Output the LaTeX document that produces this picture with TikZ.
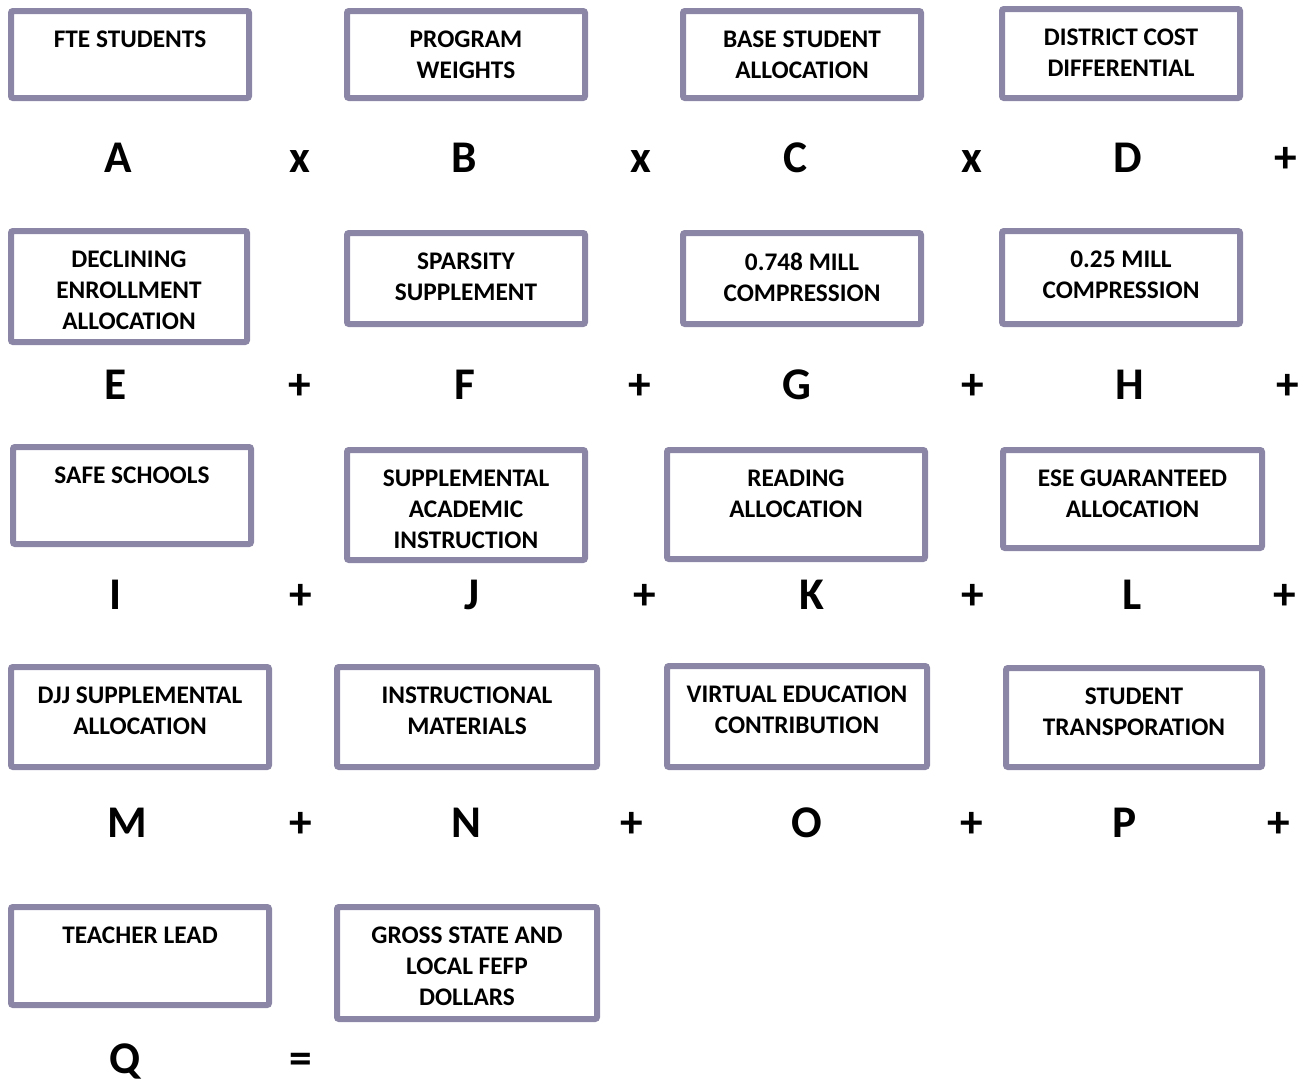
\documentclass[tikz,border=0pt]{standalone}
\usepackage{fontspec}
\setmainfont{Carlito}
\usetikzlibrary{positioning}
\definecolor{BoxLine}{HTML}{8C86A6}

\begin{document}
\begin{tikzpicture}[x=0.75pt,y=-0.75pt,
  costbox/.style={draw=BoxLine,line width=4.5pt,rounded corners=1.5pt,inner sep=0pt},
  boxtext/.style={font=\fontsize{19}{23.25}\selectfont\bfseries,align=center,inner sep=0pt},
  term/.style={font=\fontsize{34}{40}\selectfont\bfseries,anchor=base,inner sep=0pt}]
  \useasboundingbox (0,0) rectangle (1307,1085);
  % boxes: name / left / top / right / bottom / text
  \foreach \n/\xa/\ya/\xb/\yb/\t in {
    fte/8/8/252/101/{FTE STUDENTS},
    weights/344/8/588/101/{PROGRAM\\WEIGHTS},
    bsa/680/8/924/101/{BASE STUDENT\\ALLOCATION},
    dcd/999/6/1243/101/{DISTRICT COST\\DIFFERENTIAL},
    decl/8/228/250/345/{DECLINING\\ENROLLMENT\\ALLOCATION},
    spars/344/230/588/327/{SPARSITY\\SUPPLEMENT},
    mill748/680/230/924/327/{0.748 MILL\\COMPRESSION},
    mill25/999/228/1243/327/{0.25 MILL\\COMPRESSION},
    safe/10/444/254/547/{SAFE SCHOOLS},
    sai/344/447/588/563/{SUPPLEMENTAL\\ACADEMIC\\INSTRUCTION},
    reading/664/447/928/562/{READING\\ALLOCATION},
    ese/1000/447/1265/551/{ESE GUARANTEED\\ALLOCATION},
    djj/8/664/272/770/{DJJ SUPPLEMENTAL\\ALLOCATION},
    instr/334/664/600/770/{INSTRUCTIONAL\\MATERIALS},
    virtual/664/663/930/770/{VIRTUAL EDUCATION\\CONTRIBUTION},
    transp/1003/665/1265/770/{STUDENT\\TRANSPORATION},
    lead/8/904/272/1008/{TEACHER LEAD},
    gross/334/904/600/1022/{GROSS STATE AND\\LOCAL FEFP\\DOLLARS}}{
    \node[costbox,minimum width={0.75pt*(\xb-\xa-6)},minimum height={0.75pt*(\yb-\ya-6)}]
      (b\n) at ({(\xa+\xb)/2},{(\ya+\yb)/2}) {};
    \node[boxtext,below=17.2pt of b\n.north] (t\n) {\t};
  }
  % letters and operators
  \foreach \n/\x/\y/\t in {
    A/118/172/A, x1/300/172/x, B/464/172/B, x2/641/172/x, C/795/172/C, x3/972/172/x, D/1128/172/D, p1/1286/172/+,
    E/116/399/E, p2/300/399/+, F/465/399/F, p3/640/399/+, G/797/399/G, p4/973/399/+, H/1130/399/H, p5/1288/399/+,
    I/116/609/I, p6/301/609/+, J/472/609/J, p7/645/609/+, K/812/609/K, p8/973/609/+, L/1132/609/L, p9/1285/609/+,
    M/127/837/M, p10/301/837/+, N/466/837/N, p11/632/837/+, O/807/837/O, p12/972/837/+, P/1125/837/P, p13/1279/837/+,
    Q/125/1073/Q, eq/301/1073/=}{
    \node[term] (\n) at (\x,\y) {\t};
  }
\end{tikzpicture}
\end{document}
